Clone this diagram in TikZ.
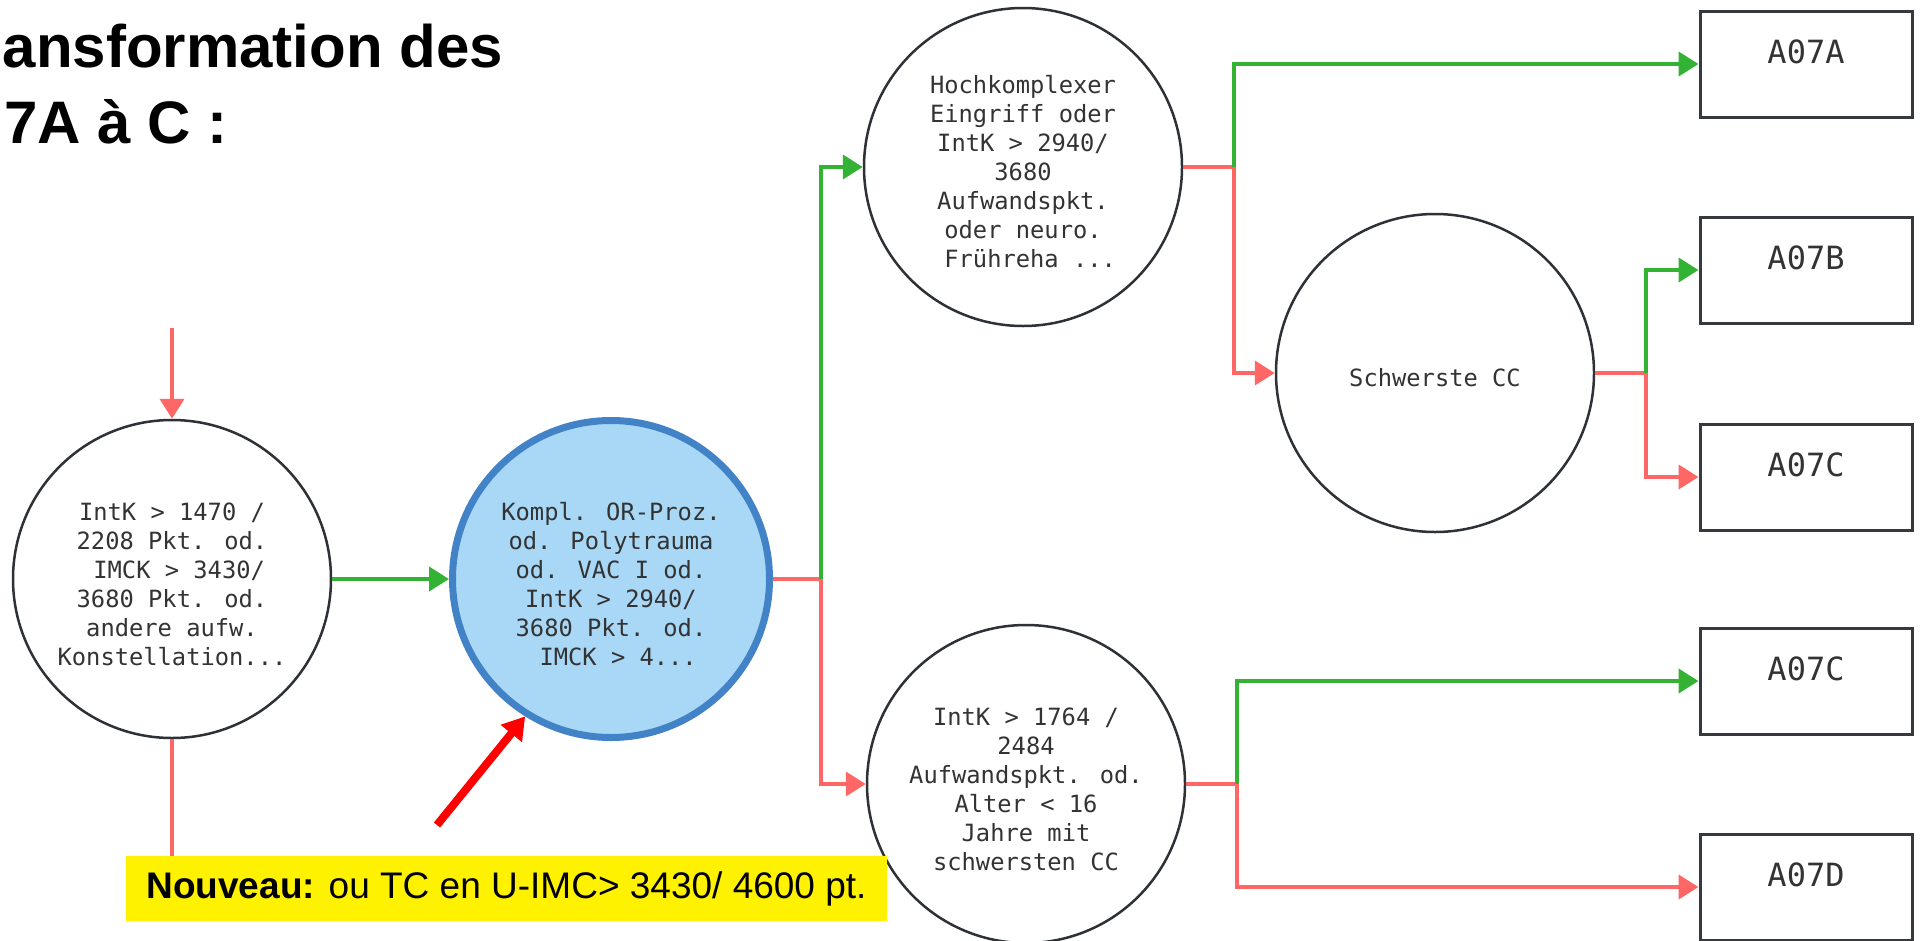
\documentclass[tikz,border=0pt]{standalone}
\usepackage{fontspec}
\setmainfont{Liberation Sans}
\newfontfamily\monofam{DejaVu Sans Mono}
\usetikzlibrary{arrows.meta}
\definecolor{lgreen}{RGB}{51,178,51}
\definecolor{lred}{RGB}{255,102,102}
\definecolor{cstroke}{RGB}{46,50,54}
\definecolor{bstroke}{RGB}{54,57,61}
\definecolor{ctext}{RGB}{51,51,51}
\definecolor{bfill}{RGB}{169,216,246}
\definecolor{bline}{RGB}{66,130,198}
\newcommand\tstr{\rule{0pt}{28pt}}
\tikzset{
  circ/.style={circle, draw=cstroke, line width=2.5pt, fill=white, minimum size=318pt, inner sep=0pt,
    align=center, text=ctext, font=\monofam\fontsize{23.75}{29}\selectfont},
  bluecirc/.style={circ, draw=bline, fill=bfill, line width=7pt, minimum size=317pt},
  codebox/.style={rectangle, draw=bstroke, line width=3pt, fill=white, minimum width=212pt, minimum height=106pt, inner sep=0pt},
  boxlbl/.style={anchor=base, inner sep=0pt, text=ctext, font=\monofam\fontsize{32}{38}\selectfont},
  gl/.style={draw=lgreen, line width=4pt, -{Triangle[length=20pt,width=24pt]}},
  rl/.style={draw=lred, line width=4pt, -{Triangle[length=20pt,width=24pt]}},
  rln/.style={draw=lred, line width=4pt},
  annot/.style={draw=red, line width=8pt, -{Triangle[length=22pt,width=26pt]}},
  titletxt/.style={anchor=base east, inner sep=0pt, font=\fontsize{60}{77}\selectfont\bfseries},
  notebox/.style={fill=yellow, minimum width=761pt, minimum height=65pt, inner sep=0pt, font=\fontsize{37}{44}\selectfont}
}
\begin{document}
\begin{tikzpicture}[x=1pt,y=-1pt]
\useasboundingbox (0,0) rectangle (1921,940);

% title (as visible at the left edge)
\node[titletxt] (t1) at (503,67) {ansformation des};
\node[titletxt] (t2) at (228,143) {7A à C :};

% nodes
\node[circ] (left) at (172,579) {\tstr IntK > 1470 /\\2208 Pkt. od.\\\hspace*{14.3pt}IMCK > 3430/\\3680 Pkt. od.\\andere aufw.\\Konstellation...};
\node[bluecirc] (blue) at (611,579) {\tstr Kompl. OR-Proz.\\od. Polytrauma\\od. VAC I od.\\IntK > 2940/\\3680 Pkt. od.\\\hspace*{14.3pt}IMCK > 4...};
\node[circ] (hoch) at (1023,167) {\tstr Hochkomplexer\\Eingriff oder\\IntK > 2940/\\3680\\Aufwandspkt.\\oder neuro.\\\hspace*{14.3pt}Frühreha ...};
\node[circ] (sch) at (1435,373) {\tstr Schwerste CC};
\node[circ] (intk) at (1026,784) {\tstr IntK > 1764 /\\2484\\Aufwandspkt. od.\\Alter < 16\\Jahre mit\\schwersten CC};

\node[codebox] (a07a) at (1806,64) {};
\node[codebox] (a07b) at (1806,270) {};
\node[codebox] (a07c1) at (1806,477) {};
\node[codebox] (a07c2) at (1806,681) {};
\node[codebox] (a07d) at (1806,887) {};
\node[boxlbl] (la) at ([yshift=-54pt]a07a.north) {A07A};
\node[boxlbl] (lb) at ([yshift=-54pt]a07b.north) {A07B};
\node[boxlbl] (lc1) at ([yshift=-54pt]a07c1.north) {A07C};
\node[boxlbl] (lc2) at ([yshift=-54pt]a07c2.north) {A07C};
\node[boxlbl] (ld) at ([yshift=-54pt]a07d.north) {A07D};

% junctions and free ends
\coordinate (top) at (172,328);
\coordinate (j1) at (821,579);
\coordinate (j2) at (1234,167);
\coordinate (j3) at (1646,373);
\coordinate (j4) at (1237,784);
\coordinate (astart) at (437,825);

% note box
\node[notebox] (note) at (506.5,888.5) {\textbf{Nouveau:} ou TC en U-IMC> 3430/ 4600 pt.};

% connectors
\draw[rl] (top) -- (left.north);
\draw[rln] (left.south) -- (left.south |- note.north);
\draw[gl] (left.east) -- (blue.west);

\draw[rln] (blue.east) -- (j1);
\draw[rl] (j1) |- (intk.west);
\draw[gl] (j1) |- (hoch.west);

\draw[rln] (hoch.east) -- (j2);
\draw[rl] (j2) |- (sch.west);
\draw[gl] (j2) |- (a07a.west);

\draw[rln] (sch.east) -- (j3);
\draw[rl] (j3) |- (a07c1.west);
\draw[gl] (j3) |- (a07b.west);

\draw[rln] (intk.east) -- (j4);
\draw[rl] (j4) |- (a07d.west);
\draw[gl] (j4) |- (a07c2.west);

\draw[annot] (astart) -- (blue.238);
\end{tikzpicture}
\end{document}
